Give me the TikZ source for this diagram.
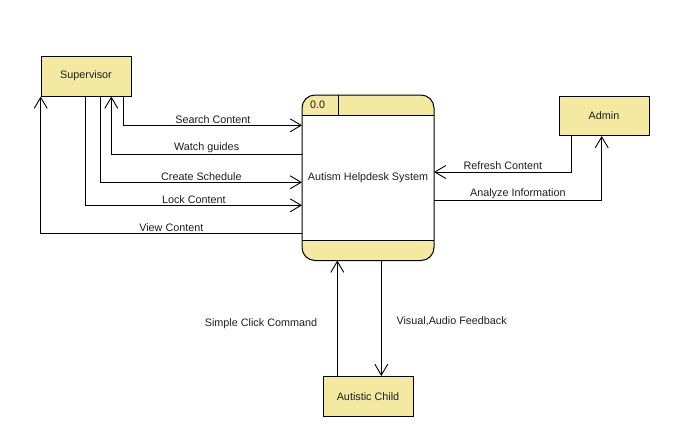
\documentclass[tikz,border=0pt]{standalone}
\usepackage{fontspec}
\setmainfont{Liberation Sans}
\usetikzlibrary{arrows.meta}
\definecolor{dfdfill}{RGB}{243,233,160}
\definecolor{txt}{RGB}{30,30,30}
\begin{document}
\begin{tikzpicture}[x=1pt,y=-1pt,
  every node/.style={font=\fontsize{10.8}{13}\selectfont, text=txt},
  entity/.style={draw=black, fill=dfdfill, line width=1pt},
  flow/.style={draw=black, line width=0.9pt, -{Straight Barb[length=11pt,width=13pt,line width=0.9pt]}},
  plain/.style={draw=black, line width=0.9pt},
  lbl/.style={above, inner sep=1.5pt}]
\useasboundingbox (0,0) rectangle (699,437);
% entities
\node[entity, minimum width=90pt, minimum height=40pt, anchor=north west] (sup) at (40.5,55.5) {Supervisor};
\node[entity, minimum width=90pt, minimum height=39pt, anchor=north west] (adm) at (558.5,96) {Admin};
\node[entity, minimum width=90pt, minimum height=40pt, anchor=north west] (child) at (322.5,376) {Autistic Child};
% process
\coordinate (pnw) at (302,95);
\coordinate (pse) at (434,260.5);
\fill[dfdfill, rounded corners=13pt] (302,95) rectangle (434,260.5);
\fill[white] (302,115) rectangle (434,240.5);
\draw[line width=1pt, rounded corners=13pt] (302,95) rectangle (434,260.5);
\draw[line width=1pt] (302,115) -- (434,115);
\draw[line width=1pt] (302,240.5) -- (434,240.5);
\draw[line width=1pt] (338.5,95) -- (338.5,115);
\node[anchor=west, inner sep=0pt] (pid) at (310,104.5) {0.0};
\node (proc) at (368,178) {Autism Helpdesk System};
\path (302,95) rectangle (434,260.5);
\coordinate (pw) at (302,178);
% supervisor flows
\coordinate (a1) at (123.7,125.3);
\draw[flow] (sup.south -| a1) -- (a1) -- node[lbl]{Search Content} (a1 -| pnw);
\coordinate (a2) at (111.3,154.3);
\draw[flow] (a2 -| pnw) -- node[lbl]{Watch guides} (a2) -- (a2 |- sup.south);
\coordinate (a3) at (100.7,182.3);
\draw[flow] (sup.south -| a3) -- (a3) -- node[lbl]{Create Schedule} (a3 -| pnw);
\coordinate (a4) at (85.7,205.3);
\draw[flow] (sup.south -| a4) -- (a4) -- node[lbl]{Lock Content} (a4 -| pnw);
\coordinate (a5) at (40.7,233.3);
\draw[flow] (a5 -| pnw) -- node[lbl]{View Content} (a5) -- (a5 |- sup.south);
% admin flows
\coordinate (b1) at (571.7,172);
\draw[flow] (adm.south -| b1) -- (b1) -- node[lbl]{Refresh Content} (b1 -| pse);
\coordinate (b2) at (601.7,200.7);
\draw[flow] (b2 -| pse) -- node[lbl]{Analyze Information} (b2) -- (b2 |- adm.south);
% child flows
\coordinate (c1) at (337.3,318);
\draw[flow] (child.north -| c1) -- (c1 |- pse);
\coordinate (c2) at (381.3,318);
\draw[flow] (c2 |- pse) -- (child.north -| c2);
\node (l1) at (261,324) {Simple Click Command};
\node[anchor=west] (l2) at (393,321) {Visual,Audio Feedback};
\end{tikzpicture}
\end{document}
